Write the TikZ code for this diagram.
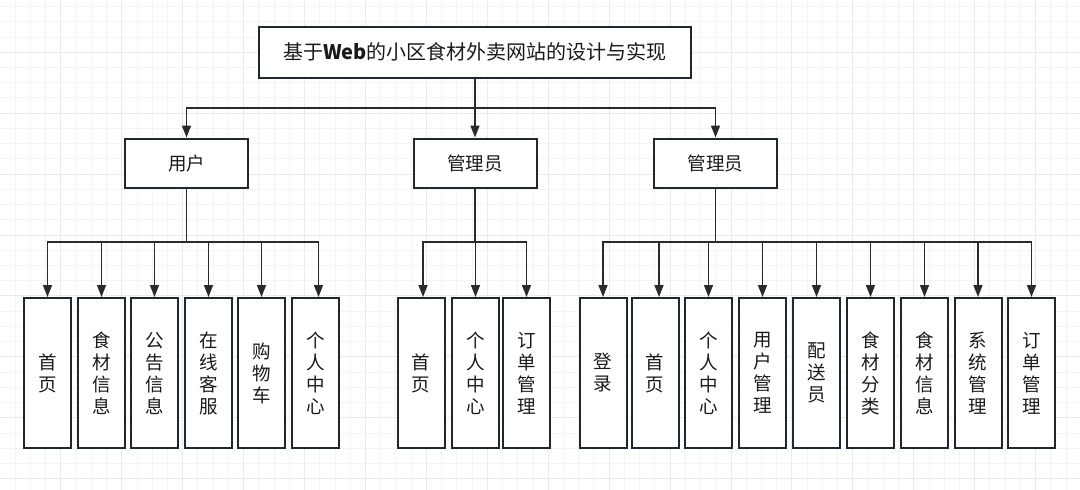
\documentclass[tikz,border=0pt]{standalone}
\usepackage{fontspec}
\setmainfont{Noto Sans CJK SC}
\usetikzlibrary{arrows.meta}
\definecolor{gridminor}{HTML}{F4F4F4}
\definecolor{gridmajor}{HTML}{EAEAEA}
\definecolor{boxline}{HTML}{1E2830}
\definecolor{arrline}{HTML}{2A2A2A}
\definecolor{txt}{HTML}{1A1A1A}
\tikzset{
  box/.style={draw=boxline, line width=2pt, fill=white, text=txt, inner sep=0pt, align=center},
  titlebox/.style={box, minimum width=432pt, minimum height=51pt, font=\fontsize{20}{22}\selectfont},
  midbox/.style={box, minimum width=123pt, minimum height=49pt, font=\fontsize{18.5}{20}\selectfont},
  leafbox/.style={box, minimum width=47pt, minimum height=150pt, font=\fontsize{18.5}{22}\selectfont},
  conn/.style={draw=arrline, line width=1.6pt},
  arr/.style={conn, -{Triangle[length=12pt,width=9pt]}},
}
\begin{document}
\begin{tikzpicture}[x=1pt,y=-1pt]
\useasboundingbox (0,0) rectangle (1080,490);
\fill[white] (0,0) rectangle (1080,490);
% grid
\foreach \i in {1,...,70} { \draw[gridminor, line width=1pt] (\i*15.23,0) -- (\i*15.23,490); }
\foreach \j in {-3,...,28} { \draw[gridminor, line width=1pt] (0,52.3+\j*15.23) -- (1080,52.3+\j*15.23); }
\foreach \i in {1,...,17} { \draw[gridmajor, line width=1pt] (\i*60.92,0) -- (\i*60.92,490); }
\foreach \j in {0,...,7} { \draw[gridmajor, line width=1pt] (0,52.3+\j*60.92) -- (1080,52.3+\j*60.92); }

% title
\node[titlebox] (title) at (475,52) {基于\textbf{Web}的小区食材外卖网站的设计与实现};
% second level
\node[midbox] (user) at (186.5,163) {用户};
\node[midbox] (mgrA) at (475,163) {管理员};
\node[midbox] (mgrB) at (715.5,163) {管理员};

% leaves: user
\node[leafbox] (u1) at (47.5,373) {首\\页};
\node[leafbox] (u2) at (101.5,373) {食\\材\\信\\息};
\node[leafbox] (u3) at (154.5,373) {公\\告\\信\\息};
\node[leafbox] (u4) at (208.5,373) {在\\线\\客\\服};
\node[leafbox] (u5) at (261.5,373) {购\\物\\车};
\node[leafbox] (u6) at (315.5,373) {个\\人\\中\\心};
% leaves: admin A
\node[leafbox] (a1) at (421,373) {首\\页};
\node[leafbox] (a2) at (475.5,373) {个\\人\\中\\心};
\node[leafbox] (a3) at (526.5,373) {订\\单\\管\\理};
% leaves: admin B
\node[leafbox] (b1) at (603,373) {登\\录};
\node[leafbox] (b2) at (655,373) {首\\页};
\node[leafbox] (b3) at (708.5,373) {个\\人\\中\\心};
\node[leafbox] (b4) at (762.5,373) {用\\户\\管\\理};
\node[leafbox] (b5) at (816.5,373) {配\\送\\员};
\node[leafbox] (b6) at (870.5,373) {食\\材\\分\\类};
\node[leafbox] (b7) at (924.5,373) {食\\材\\信\\息};
\node[leafbox] (b8) at (978,373) {系\\统\\管\\理};
\node[leafbox] (b9) at (1031.5,373) {订\\单\\管\\理};

% top connectors
\coordinate (tbus) at (title.south |- 0,108);
\draw[conn] (title.south) -- (tbus);
\draw[arr] (tbus) -| (user.north);
\draw[arr] (tbus) -- (mgrA.north);
\draw[arr] (tbus) -| (mgrB.north);

% user group
\coordinate (ubus) at (user.south |- 0,242);
\draw[conn] (user.south) -- (ubus);
\foreach \n in {u1,u2,u3,u4,u5} { \draw[arr] (ubus) -| (\n.north); }
\draw[arr] (ubus) -| ([xshift=3pt]u6.north);

% admin A group
\coordinate (abus) at (mgrA.south |- 0,242);
\draw[conn] (mgrA.south) -- (abus);
\draw[arr] (abus) -| ([xshift=2pt]a1.north);
\draw[arr] (abus) -| (a2.north);
\draw[arr] (abus) -| (a3.north);

% admin B group
\coordinate (bbus) at (mgrB.south |- 0,242);
\draw[conn] (mgrB.south) -- (bbus);
\draw[arr] (bbus) -| (b1.north);
\draw[arr] (bbus) -| ([xshift=4pt]b2.north);
\foreach \n in {b3,b4,b5,b6,b7,b8,b9} { \draw[arr] (bbus) -| (\n.north); }
\end{tikzpicture}
\end{document}
